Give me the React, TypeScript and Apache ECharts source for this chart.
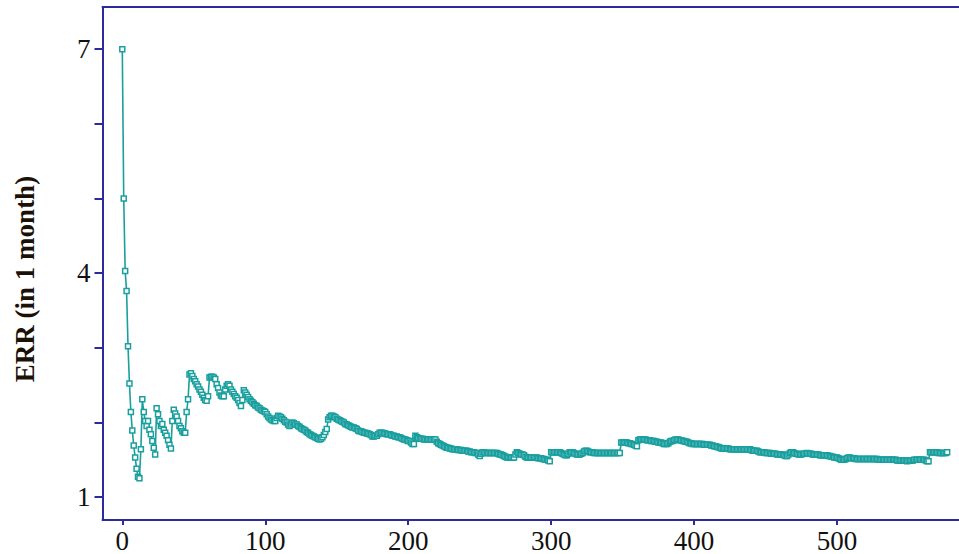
import React, { useEffect, useRef } from "react";
import * as echarts from "echarts";

// ERR measured over a 1-month window, one value per step (step = array index)
const errValues: number[] = [
  7.00, 5.00, 4.03, 3.76, 3.02, 2.52, 2.14, 1.89, 1.69, 1.53,
  1.38, 1.27, 1.25, 1.64, 2.31, 2.14, 2.02, 1.95, 2.02, 1.90,
  1.84, 1.75, 1.66, 1.57, 2.19, 2.11, 2.02, 1.95, 1.98, 1.90,
  1.86, 1.82, 1.76, 1.70, 1.65, 2.02, 2.17, 2.12, 2.08, 2.02,
  1.95, 1.92, 1.88, 1.86, 1.86, 2.14, 2.31, 2.64, 2.66, 2.62,
  2.58, 2.55, 2.51, 2.48, 2.44, 2.41, 2.37, 2.33, 2.30, 2.29,
  2.35, 2.60, 2.61, 2.61, 2.60, 2.58, 2.51, 2.46, 2.40, 2.36,
  2.35, 2.35, 2.44, 2.49, 2.51, 2.49, 2.44, 2.41, 2.38, 2.35,
  2.33, 2.30, 2.26, 2.22, 2.30, 2.43, 2.40, 2.37, 2.34, 2.31,
  2.29, 2.27, 2.25, 2.23, 2.22, 2.20, 2.19, 2.17, 2.16, 2.15,
  2.14, 2.11, 2.08, 2.06, 2.04, 2.03, 2.02, 2.02, 2.06, 2.09,
  2.08, 2.07, 2.05, 2.03, 2.01, 2.00, 1.97, 1.95, 1.97, 2.00,
  1.99, 1.97, 1.97, 1.95, 1.94, 1.92, 1.91, 1.90, 1.89, 1.87,
  1.86, 1.84, 1.83, 1.82, 1.81, 1.80, 1.79, 1.78, 1.77, 1.78,
  1.80, 1.83, 1.87, 1.91, 2.04, 2.07, 2.09, 2.09, 2.08, 2.07,
  2.05, 2.04, 2.03, 2.02, 2.01, 2.00, 1.98, 1.97, 1.96, 1.95,
  1.94, 1.93, 1.93, 1.92, 1.91, 1.89, 1.88, 1.88, 1.87, 1.86,
  1.86, 1.85, 1.85, 1.84, 1.83, 1.81, 1.81, 1.82, 1.82, 1.84,
  1.86, 1.86, 1.86, 1.85, 1.85, 1.84, 1.84, 1.84, 1.83, 1.82,
  1.82, 1.81, 1.81, 1.80, 1.80, 1.79, 1.78, 1.77, 1.77, 1.76,
  1.75, 1.75, 1.73, 1.71, 1.71, 1.82, 1.80, 1.79, 1.78, 1.78,
  1.78, 1.77, 1.77, 1.77, 1.77, 1.77, 1.77, 1.77, 1.77, 1.77,
  1.74, 1.72, 1.71, 1.70, 1.69, 1.68, 1.67, 1.66, 1.66, 1.65,
  1.65, 1.64, 1.64, 1.64, 1.64, 1.63, 1.63, 1.63, 1.62, 1.62,
  1.62, 1.62, 1.61, 1.61, 1.60, 1.60, 1.60, 1.59, 1.59, 1.57,
  1.55, 1.58, 1.60, 1.60, 1.59, 1.59, 1.59, 1.59, 1.59, 1.59,
  1.59, 1.59, 1.59, 1.58, 1.57, 1.57, 1.56, 1.55, 1.54, 1.53,
  1.53, 1.53, 1.53, 1.53, 1.53, 1.57, 1.60, 1.59, 1.58, 1.57,
  1.57, 1.56, 1.54, 1.53, 1.53, 1.53, 1.53, 1.53, 1.53, 1.53,
  1.53, 1.52, 1.52, 1.52, 1.51, 1.51, 1.50, 1.50, 1.49, 1.48,
  1.60, 1.60, 1.60, 1.60, 1.60, 1.60, 1.60, 1.59, 1.58, 1.57,
  1.56, 1.56, 1.58, 1.60, 1.60, 1.60, 1.59, 1.58, 1.57, 1.57,
  1.57, 1.58, 1.59, 1.61, 1.62, 1.62, 1.61, 1.60, 1.60, 1.60,
  1.59, 1.59, 1.59, 1.59, 1.59, 1.59, 1.59, 1.59, 1.59, 1.59,
  1.59, 1.59, 1.59, 1.59, 1.59, 1.59, 1.59, 1.59, 1.59, 1.73,
  1.73, 1.73, 1.73, 1.73, 1.72, 1.72, 1.71, 1.71, 1.70, 1.69,
  1.68, 1.76, 1.77, 1.77, 1.77, 1.77, 1.77, 1.76, 1.76, 1.76,
  1.75, 1.75, 1.75, 1.74, 1.74, 1.73, 1.73, 1.73, 1.72, 1.71,
  1.71, 1.71, 1.72, 1.74, 1.75, 1.75, 1.76, 1.77, 1.77, 1.77,
  1.76, 1.76, 1.75, 1.75, 1.74, 1.74, 1.73, 1.72, 1.72, 1.71,
  1.71, 1.71, 1.71, 1.71, 1.71, 1.71, 1.71, 1.70, 1.70, 1.70,
  1.70, 1.70, 1.69, 1.69, 1.68, 1.68, 1.67, 1.67, 1.66, 1.65,
  1.65, 1.65, 1.65, 1.65, 1.65, 1.64, 1.64, 1.64, 1.64, 1.64,
  1.64, 1.64, 1.64, 1.64, 1.64, 1.64, 1.64, 1.64, 1.64, 1.64,
  1.63, 1.62, 1.62, 1.62, 1.62, 1.61, 1.60, 1.60, 1.60, 1.60,
  1.59, 1.59, 1.59, 1.59, 1.58, 1.58, 1.58, 1.58, 1.57, 1.57,
  1.57, 1.57, 1.57, 1.56, 1.55, 1.55, 1.57, 1.59, 1.60, 1.60,
  1.59, 1.58, 1.58, 1.57, 1.57, 1.57, 1.58, 1.58, 1.58, 1.59,
  1.58, 1.58, 1.58, 1.57, 1.57, 1.57, 1.57, 1.57, 1.56, 1.56,
  1.56, 1.56, 1.56, 1.56, 1.55, 1.55, 1.54, 1.54, 1.53, 1.53,
  1.53, 1.52, 1.51, 1.50, 1.50, 1.50, 1.51, 1.52, 1.53, 1.53,
  1.52, 1.52, 1.52, 1.51, 1.51, 1.51, 1.51, 1.51, 1.51, 1.51,
  1.51, 1.51, 1.51, 1.51, 1.51, 1.51, 1.51, 1.51, 1.51, 1.50,
  1.50, 1.50, 1.50, 1.50, 1.50, 1.50, 1.50, 1.50, 1.50, 1.50,
  1.50, 1.50, 1.49, 1.49, 1.49, 1.49, 1.49, 1.49, 1.49, 1.48,
  1.49, 1.49, 1.49, 1.49, 1.50, 1.50, 1.50, 1.50, 1.50, 1.50,
  1.50, 1.50, 1.49, 1.48, 1.48, 1.60, 1.60, 1.60, 1.60, 1.60,
  1.60, 1.59, 1.59, 1.59, 1.59, 1.59, 1.59, 1.60,
];

const xTickValues: number[] = [0, 100, 200, 300, 400, 500];
const yTickValues: number[] = [1, 2, 3, 4, 5, 6, 7];
const yLabelValues: number[] = [1, 4, 7];
const yTitle = "ERR (in 1 month)";

const AXIS_COLOR = "#2b2b9c";
const LINE_COLOR = "#1a9f9f";
const FONT = "'Liberation Serif', 'Times New Roman', serif";

export default function App() {
  const ref = useRef<HTMLDivElement>(null);

  useEffect(() => {
    if (!ref.current) return;
    const chart = echarts.init(ref.current, undefined, { renderer: "svg" });
    const seriesData = errValues.map((v, i) => [i, v]);

    chart.setOption({
      animation: false,
      backgroundColor: "#ffffff",
      grid: { left: 102.5, right: 0, top: 7, bottom: 33.3, containLabel: false },
      xAxis: [
        {
          type: "value",
          min: -13.85,
          max: 585.3,
          position: "bottom",
          splitLine: { show: false },
          axisLine: { show: true, onZero: false, lineStyle: { color: AXIS_COLOR, width: 2 } },
          axisTick: {
            show: true,
            length: 5,
            customValues: xTickValues,
            lineStyle: { color: AXIS_COLOR, width: 2 },
          },
          axisLabel: {
            customValues: xTickValues,
            margin: 7,
            color: "#111",
            fontFamily: FONT,
            fontSize: 27,
          },
        },
        {
          type: "value",
          min: -13.85,
          max: 585.3,
          position: "top",
          splitLine: { show: false },
          axisLine: { show: true, onZero: false, lineStyle: { color: AXIS_COLOR, width: 2 } },
          axisTick: { show: false },
          axisLabel: { show: false },
        },
      ],
      yAxis: {
        type: "value",
        min: 0.692,
        max: 7.566,
        splitLine: { show: false },
        axisLine: { show: true, onZero: false, lineStyle: { color: AXIS_COLOR, width: 2 } },
        axisTick: {
          show: true,
          length: 8,
          customValues: yTickValues,
          lineStyle: { color: AXIS_COLOR, width: 2 },
        },
        axisLabel: {
          customValues: yLabelValues,
          margin: 12,
          color: "#111",
          fontFamily: FONT,
          fontSize: 27,
        },
      },
      graphic: [
        {
          type: "text",
          x: 25,
          y: 279,
          rotation: Math.PI / 2,
          style: {
            text: yTitle,
            font: `bold 27px ${FONT}`,
            fill: "#1a1208",
            align: "center",
            verticalAlign: "middle",
          },
        },
      ],
      series: [
        {
          type: "line",
          xAxisIndex: 0,
          data: seriesData,
          showSymbol: true,
          showAllSymbol: true,
          symbol: "rect",
          symbolSize: 5,
          itemStyle: { color: "#ffffff", borderColor: LINE_COLOR, borderWidth: 1.5 },
          lineStyle: { color: LINE_COLOR, width: 1.6 },
          clip: false,
        },
      ],
    });

    return () => chart.dispose();
  }, []);

  return (
    <div
      ref={ref}
      style={{ position: "fixed", left: 0, top: 0, width: 959, height: 554, background: "#fff" }}
    />
  );
}
